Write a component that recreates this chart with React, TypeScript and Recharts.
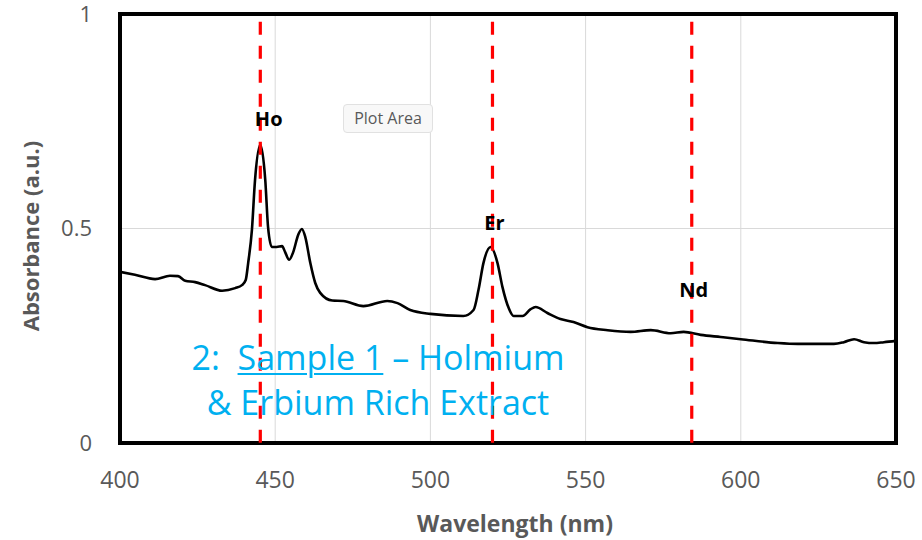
import React from "react";
import {
  LineChart,
  Line,
  XAxis,
  YAxis,
  CartesianGrid,
  ReferenceLine,
  ReferenceArea,
  ReferenceDot,
} from "recharts";

const wavelengths = [400, 404.8, 411.3, 416.1, 418.7, 421, 424.2, 427.4, 432.9, 437.1, 439.3, 440.5, 441.3, 442.5, 443.5, 445.2, 446.8, 447.7, 448.9, 450.5, 452.2, 453.2, 454.5, 455.8, 457.4, 458.6, 459.7, 461.3, 462.9, 464.5, 468.4, 471.9, 478.4, 486.1, 489.4, 493.5, 500, 510.6, 513.9, 515.5, 517.1, 519.4, 521.6, 523.2, 525.2, 526.8, 529.7, 532.3, 533.9, 537.7, 541.9, 546.1, 550.6, 557.1, 564.5, 571, 577.4, 581.6, 587.1, 593.5, 600, 611.9, 618.4, 630, 633.2, 636.5, 639.7, 642.9, 646.1, 650];
const absorbance = [0.399, 0.392, 0.382, 0.39, 0.389, 0.378, 0.375, 0.368, 0.355, 0.361, 0.368, 0.38, 0.42, 0.497, 0.613, 0.695, 0.613, 0.503, 0.457, 0.457, 0.459, 0.445, 0.427, 0.445, 0.485, 0.499, 0.48, 0.42, 0.373, 0.35, 0.332, 0.331, 0.319, 0.331, 0.326, 0.31, 0.301, 0.296, 0.31, 0.357, 0.42, 0.457, 0.42, 0.364, 0.315, 0.296, 0.296, 0.312, 0.317, 0.303, 0.289, 0.282, 0.27, 0.263, 0.259, 0.263, 0.256, 0.259, 0.252, 0.247, 0.242, 0.233, 0.231, 0.231, 0.235, 0.242, 0.235, 0.233, 0.235, 0.238];

const xTicks = [400, 450, 500, 550, 600, 650];
const yTicks = [0, 0.5, 1];

const markerLines = [445.2, 520, 584.2];
const elementLabels = ["Ho", "Er", "Nd"];
const labelX = [447.9, 520.6, 584.8];
const labelY = [0.755, 0.513, 0.357];

const data = wavelengths.map((wl, i) => ({ wl, a: absorbance[i] }));

const FONT = "'Open Sans', 'Noto Sans', sans-serif";
const GRAY = "#595959";

export default function App() {
  return (
    <div style={{ position: "absolute", left: 0, top: 0, width: 922, height: 540, background: "#fff", fontFamily: FONT }}>
      <LineChart width={922} height={540} data={data} margin={{ top: 14, right: 26, left: 0, bottom: 0 }}>
        <CartesianGrid stroke="#d9d9d9" strokeWidth={1} />
        <XAxis
          dataKey="wl"
          type="number"
          domain={[400, 650]}
          ticks={xTicks}
          allowDataOverflow
          height={97}
          axisLine={false}
          tickLine={false}
          tickSize={0}
          tickMargin={29}
          tick={{ fontSize: 23, fill: GRAY, fontFamily: FONT }}
        />
        <YAxis
          type="number"
          domain={[0, 1]}
          ticks={yTicks}
          width={120}
          axisLine={false}
          tickLine={false}
          tickSize={0}
          tickMargin={28}
          tick={{ fontSize: 22, fill: GRAY, fontFamily: FONT }}
        />
        <ReferenceLine x={399.4} stroke="#9a9a9a" strokeWidth={1.2} />
        <Line
          type="monotone"
          dataKey="a"
          stroke="#000"
          strokeWidth={2.6}
          dot={false}
          isAnimationActive={false}
        />
        {markerLines.map((x) => (
          <ReferenceLine
            key={x}
            segment={[{ x, y: 0.982 }, { x, y: 0 }]}
            stroke="#ff0000"
            strokeWidth={3.2}
            strokeDasharray="13 11"
          />
        ))}
        {elementLabels.map((t, i) => (
          <ReferenceDot
            key={t}
            x={labelX[i]}
            y={labelY[i]}
            r={0}
            fill="none"
            stroke="none"
            label={{ value: t, position: "center", fontSize: 20, fontWeight: 700, fill: "#000", fontFamily: FONT }}
          />
        ))}
        <ReferenceArea x1={400} x2={650} y1={0} y2={1} fill="none" stroke="#000" strokeWidth={4} />
      </LineChart>

      <div
        style={{
          position: "absolute",
          left: 343,
          top: 104,
          width: 90,
          height: 29,
          boxSizing: "border-box",
          border: "1px solid #e1e1e1",
          borderRadius: 4,
          background: "#f8f8f8",
          color: GRAY,
          fontSize: 16,
          lineHeight: "27px",
          textAlign: "center",
        }}
      >
        Plot Area
      </div>

      <div
        style={{
          position: "absolute",
          left: 128,
          top: 335,
          width: 500,
          textAlign: "center",
          color: "#00b0f0",
          fontSize: 34,
          lineHeight: "45px",
          whiteSpace: "pre",
        }}
      >
        <div>
          {"2:  "}
          <span style={{ textDecoration: "underline", textDecorationThickness: 2, textUnderlineOffset: 3 }}>Sample 1</span>
          {" \u2013 Holmium"}
        </div>
        <div>{"& Erbium Rich Extract"}</div>
      </div>

      <div
        style={{
          position: "absolute",
          left: 315,
          top: 507,
          width: 400,
          textAlign: "center",
          color: GRAY,
          fontSize: 23,
          fontWeight: 700,
        }}
      >
        Wavelength (nm)
      </div>
      <div
        style={{
          position: "absolute",
          left: 30 - 150,
          top: 236 - 15,
          width: 300,
          height: 30,
          lineHeight: "30px",
          textAlign: "center",
          color: GRAY,
          fontSize: 22,
          fontWeight: 700,
          transform: "rotate(-90deg)",
        }}
      >
        Absorbance (a.u.)
      </div>
    </div>
  );
}
